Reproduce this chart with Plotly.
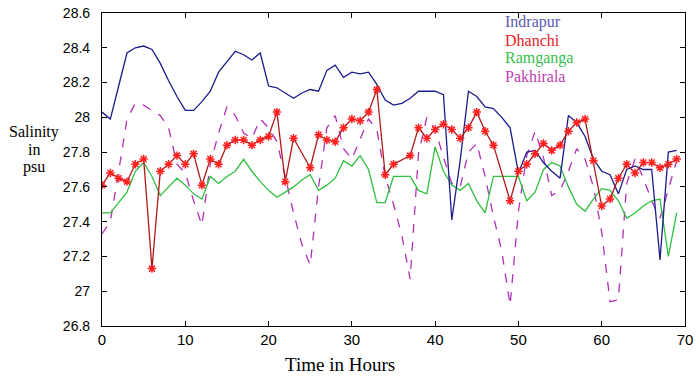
import plotly.graph_objects as go

hours = list(range(0, 70))

indrapur = [28.03, 27.99, 28.18, 28.37, 28.40, 28.41, 28.39, 28.31, 28.21, 28.12,
            28.04, 28.04, 28.09, 28.15, 28.26, 28.32, 28.38, 28.36, 28.33, 28.37,
            28.18, 28.17, 28.14, 28.11, 28.14, 28.16, 28.15, 28.27, 28.30, 28.23,
            28.26, 28.25, 28.26, 28.19, 28.10, 28.07, 28.08, 28.11, 28.15, 28.15,
            28.15, 28.13, 27.41, 27.75, 28.15, 28.12, 28.06, 28.05, 28.00, 27.94,
            27.68, 27.80, 27.81, 27.74, 27.69, 27.65, 28.01, 27.97, 27.89, 27.76,
            27.69, 27.67, 27.56, 27.70, 27.72, 27.70, 27.70, 27.18, 27.80, 27.81]

dhanchi_hours = [0, 1, 2, 3, 4, 5, 6, 7, 8, 9, 10, 11, 12, 13, 14, 15, 16, 17, 18, 19,
                 20, 21, 22, 23, 25, 26, 27, 28, 29, 30, 31, 32, 33, 34, 35, 37, 38, 39,
                 40, 41, 42, 43, 44, 45, 46, 47, 49, 50, 51, 52, 53, 54, 55, 56, 57, 58,
                 59, 60, 61, 62, 63, 64, 65, 66, 67, 68, 69]
dhanchi = [27.61, 27.68, 27.65, 27.63, 27.73, 27.76, 27.13, 27.69, 27.73, 27.78,
           27.73, 27.79, 27.61, 27.76, 27.73, 27.84, 27.87, 27.87, 27.84, 27.87,
           27.89, 28.03, 27.63, 27.88, 27.71, 27.90, 27.87, 27.86, 27.94, 27.99,
           27.98, 28.03, 28.16, 27.67, 27.73, 27.78, 27.94, 27.88,
           27.93, 27.96, 27.93, 27.88, 27.94, 28.03, 27.92, 27.84, 27.52, 27.69,
           27.73, 27.79, 27.85, 27.81, 27.84, 27.92, 27.97, 27.99,
           27.75, 27.49, 27.53, 27.65, 27.73, 27.68, 27.74, 27.74, 27.71, 27.73, 27.76]

ramganga = [27.45, 27.45, 27.51, 27.57, 27.69, 27.74, 27.66, 27.55, 27.60, 27.65,
            27.61, 27.56, 27.53, 27.66, 27.62, 27.66, 27.69, 27.76, 27.69, 27.63,
            27.58, 27.54, 27.57, 27.60, 27.64, 27.67, 27.58, 27.61, 27.65, 27.75,
            27.72, 27.78, 27.70, 27.51, 27.51, 27.66, 27.66, 27.66, 27.58, 27.56,
            27.83, 27.69, 27.61, 27.58, 27.62, 27.52, 27.45, 27.66, 27.66, 27.66,
            27.66, 27.52, 27.57, 27.70, 27.74, 27.72, 27.60, 27.50, 27.46, 27.53,
            27.59, 27.58, 27.52, 27.42, 27.45, 27.49, 27.52, 27.53, 27.20, 27.45]

pakhirala = [27.33, 27.40, 27.69, 27.99, 28.08, 28.07, 28.04, 28.01, 27.94, 27.73,
             27.68, 27.52, 27.38, 27.73, 27.91, 28.06, 28.01, 27.91, 27.88, 27.99,
             27.94, 27.86, 27.66, 27.45, 27.27, 27.15, 27.60, 27.94, 28.01, 27.82,
             27.76, 27.87, 27.99, 27.93, 27.66, 27.50, 27.32, 27.07, 27.79, 28.00,
             27.93, 27.77, 27.62, 27.60, 27.80, 27.85, 27.66, 27.43, 27.23, 26.92,
             27.46, 27.78, 27.92, 27.77, 27.55, 27.58, 27.69, 27.82, 27.76, 27.60,
             27.34, 26.94, 26.95, 27.62, 27.76, 27.65, 27.52, 27.42, 27.58, 27.75]

x_ticks = [0, 10, 20, 30, 40, 50, 60, 70]
y_ticks = [26.8, 27.0, 27.2, 27.4, 27.6, 27.8, 28.0, 28.2, 28.4, 28.6]

names = ["Indrapur", "Dhanchi", "Ramganga", "Pakhirala"]
label_colors = ["#5a5ab0", "#e8202a", "#33c04a", "#c040b0"]

L, R, T, B = 102, 15, 13, 50
W, H = 700, 376
pw, ph = W - L - R, H - T - B


def px_x(p):
    return (p - L) / pw


def px_y(p):
    return 1 - (p - T) / ph


fig = go.Figure()
fig.add_trace(go.Scatter(x=hours, y=pakhirala, mode="lines", name=names[3],
                         line=dict(color="#b030b8", width=1.3, dash="dash")))
fig.add_trace(go.Scatter(x=hours, y=ramganga, mode="lines", name=names[2],
                         line=dict(color="#30c040", width=1.3)))
fig.add_trace(go.Scatter(x=hours, y=indrapur, mode="lines", name=names[0],
                         line=dict(color="#1c1c8a", width=1.3)))
fig.add_trace(go.Scatter(x=dhanchi_hours, y=dhanchi, mode="lines+markers", name=names[1],
                         line=dict(color="#b01818", width=1.3),
                         marker=dict(symbol="asterisk-open", size=7,
                                     color="#ff2020",
                                     line=dict(color="#ff2020", width=1.5))))

legend_centers = [22, 40, 58, 76]
for nm, c, cy in zip(names, label_colors, legend_centers):
    fig.add_annotation(x=px_x(503), y=px_y(cy), xref="paper", yref="paper",
                       text=nm, showarrow=False, xanchor="left", yanchor="middle",
                       font=dict(family="Liberation Serif", size=16, color=c))

for txt, cy in zip(["Salinity", "in", "psu"], [132, 149.5, 167]):
    fig.add_annotation(x=px_x(34), y=px_y(cy), xref="paper", yref="paper",
                       text=txt, showarrow=False, xanchor="center",
                       yanchor="middle",
                       font=dict(family="Liberation Serif", size=16, color="black"))

fig.add_annotation(x=px_x(340), y=px_y(364), xref="paper", yref="paper",
                   text="Time in Hours", showarrow=False, xanchor="center",
                   yanchor="middle",
                   font=dict(family="Liberation Serif", size=19, color="black"))

fig.update_layout(
    width=W, height=H,
    margin=dict(l=L, r=R, t=T, b=B),
    paper_bgcolor="white", plot_bgcolor="white",
    showlegend=False,
    font=dict(family="Liberation Sans", size=15, color="black"),
)
fig.update_xaxes(range=[0, 70], tickvals=x_ticks, ticks="inside", ticklen=5,
                 tickcolor="black", showline=True, linecolor="black", linewidth=1.2,
                 mirror="ticks", showgrid=False, zeroline=False, automargin=False)
fig.update_yaxes(range=[26.8, 28.6], tickvals=y_ticks, ticks="inside", ticklen=5,
                 tickcolor="black", showline=True, linecolor="black", linewidth=1.2,
                 mirror="ticks", showgrid=False, zeroline=False, automargin=False,
                 ticklabelstandoff=8, tickfont=dict(size=14))

fig.write_html("out.html", config={"displayModeBar": False},
               post_script="document.body.style.margin='0';document.body.style.overflow='hidden';")
